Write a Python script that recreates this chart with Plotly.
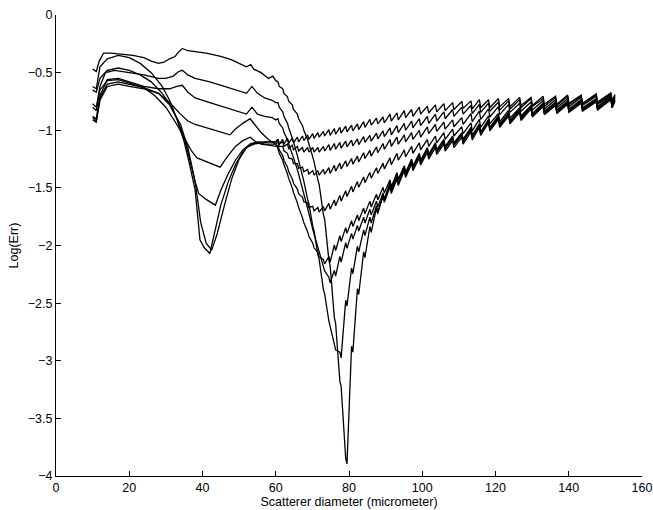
import plotly.graph_objects as go

# ---------------- data ----------------
# Left part of each curve (x, y), x in micrometer, y = Log(Err)
A_X = [10, 11, 11.8, 13, 15, 18, 21, 24, 26, 28, 29.5, 31, 32.5, 33.5, 34.5, 36, 38, 41, 45, 48, 50, 52, 53.2, 54, 56, 58, 59.2, 60]
A_Y = [-0.47, -0.49, -0.40, -0.33, -0.33, -0.34, -0.35, -0.37, -0.40, -0.42, -0.41, -0.38, -0.36, -0.32, -0.29, -0.31, -0.32, -0.33, -0.36, -0.39, -0.42, -0.45, -0.43, -0.47, -0.50, -0.55, -0.53, -0.57]

B_X = [10, 11, 12, 13.5, 16, 20, 24, 28, 30, 32, 33.5, 34.5, 36, 38, 42, 46, 50, 52, 53.5, 55, 57, 59, 60]
B_Y = [-0.77, -0.80, -0.62, -0.50, -0.48, -0.50, -0.52, -0.55, -0.55, -0.53, -0.49, -0.48, -0.52, -0.55, -0.58, -0.62, -0.66, -0.68, -0.62, -0.68, -0.72, -0.74, -0.76]

C_X = [10, 11, 12, 14, 17, 20, 24, 28, 31, 33, 34.5, 36, 38, 42, 46, 50, 52, 53.5, 55, 57, 59, 60]
C_Y = [-0.88, -0.90, -0.70, -0.56, -0.55, -0.58, -0.62, -0.64, -0.64, -0.62, -0.61, -0.67, -0.72, -0.76, -0.80, -0.84, -0.86, -0.80, -0.86, -0.88, -0.89, -0.91]

D_X = [10, 11, 12, 14, 17, 20, 24, 28, 31, 34, 36, 38, 41, 44, 47.5, 49, 51, 53, 54.5, 56, 58, 60]
D_Y = [-0.89, -0.92, -0.72, -0.60, -0.58, -0.60, -0.63, -0.68, -0.76, -0.86, -0.92, -0.95, -0.98, -1.01, -1.04, -0.99, -0.94, -0.90, -0.96, -1.02, -1.08, -1.12]

E_X = [10, 11, 12, 14, 17, 20, 24, 27, 30, 33, 35, 37, 38.5, 40, 42, 44.8, 47, 49, 51, 53, 54.5, 56, 58, 60]
E_Y = [-0.80, -0.83, -0.65, -0.57, -0.56, -0.59, -0.63, -0.70, -0.80, -0.95, -1.07, -1.18, -1.24, -1.26, -1.28, -1.32, -1.22, -1.14, -1.09, -1.06, -1.10, -1.12, -1.13, -1.14]

F_X = [10, 11, 12, 14, 17, 20, 23, 26, 29, 31, 33, 35, 36.5, 38, 39, 41, 43.5, 45, 47, 49, 51, 53, 55, 57, 59, 60]
F_Y = [-0.65, -0.67, -0.55, -0.48, -0.46, -0.48, -0.52, -0.58, -0.68, -0.77, -0.90, -1.07, -1.25, -1.45, -1.55, -1.60, -1.65, -1.52, -1.38, -1.26, -1.17, -1.12, -1.11, -1.12, -1.12, -1.12]

G_X = [10, 11, 12, 14, 17, 20, 23, 26, 29, 31, 33, 35, 36.5, 38, 39.3, 40.5, 42, 43.5, 45, 47, 49, 51, 53, 55, 57, 59, 60]
G_Y = [-0.62, -0.64, -0.45, -0.38, -0.35, -0.37, -0.42, -0.50, -0.62, -0.74, -0.90, -1.10, -1.30, -1.52, -1.95, -2.02, -2.07, -1.85, -1.65, -1.45, -1.30, -1.19, -1.12, -1.10, -1.10, -1.10, -1.10]

H_X = [10, 11, 12, 14, 17, 20, 24, 28, 31, 34, 36, 38, 39.5, 41, 42.5, 44, 46, 48, 50, 52, 54, 56, 58, 60]
H_Y = [-0.91, -0.93, -0.74, -0.62, -0.60, -0.62, -0.64, -0.68, -0.78, -0.95, -1.15, -1.45, -1.80, -1.98, -2.04, -1.90, -1.65, -1.42, -1.25, -1.15, -1.12, -1.11, -1.10, -1.10]

# Right part: positions of the saw-tooth drops (shared by all curves)
TOOTH_X = [60.6, 61.9, 63.2, 64.5, 65.9, 67.3, 68.7, 70.1, 71.5, 73.0,
           74.5, 76.0, 77.5, 79.1, 80.7, 82.3, 84.0, 85.7, 87.5, 89.3,
           91.2, 93.1, 95.1, 97.1, 99.2, 101.4, 103.6, 105.9, 108.3, 110.8,
           113.3, 115.6, 118.1, 120.8, 123.6, 126.6, 129.7, 133.0, 136.4, 139.7,
           143.4, 147.5, 151.5]
# tooth height at each drop
TOOTH_AMP = [0.04, 0.04, 0.04, 0.04, 0.04, 0.04, 0.04, 0.04, 0.04, 0.04,
             0.05, 0.05, 0.05, 0.05, 0.05, 0.05, 0.05, 0.05, 0.05, 0.05,
             0.06, 0.06, 0.06, 0.06, 0.06, 0.06, 0.06, 0.06, 0.06, 0.06,
             0.07, 0.07, 0.07, 0.07, 0.07, 0.07, 0.07, 0.07, 0.07, 0.07,
             0.07, 0.07, 0.07]
# mid-level of each curve at each tooth
A_R = [-0.60, -0.66, -0.73, -0.80, -0.88, -0.98, -1.10, -1.25, -1.45, -1.75,
       -2.15, -2.65, -3.20, -3.87, -2.90, -2.40, -2.08, -1.86, -1.70, -1.58,
       -1.48, -1.40, -1.34, -1.29, -1.24, -1.19, -1.15, -1.12, -1.09, -1.06,
       -1.02, -0.99, -0.95, -0.92, -0.89, -0.86, -0.84, -0.82, -0.81, -0.80,
       -0.79, -0.78, -0.77]
B_R = [-0.78, -0.86, -0.96, -1.08, -1.24, -1.42, -1.62, -1.85, -2.10, -2.40,
       -2.68, -2.88, -2.95, -2.50, -2.22, -2.03, -1.89, -1.78, -1.68, -1.60,
       -1.52, -1.45, -1.38, -1.32, -1.27, -1.22, -1.18, -1.15, -1.12, -1.09,
       -1.05, -1.01, -0.97, -0.94, -0.91, -0.88, -0.85, -0.83, -0.82, -0.81,
       -0.80, -0.79, -0.77]
C_R = [-0.92, -1.00, -1.10, -1.22, -1.36, -1.52, -1.70, -1.88, -2.05, -2.20,
       -2.30, -2.24, -2.12, -2.00, -1.92, -1.85, -1.78, -1.71, -1.64, -1.57,
       -1.50, -1.43, -1.36, -1.30, -1.25, -1.20, -1.16, -1.13, -1.10, -1.07,
       -1.03, -1.00, -0.96, -0.93, -0.90, -0.87, -0.84, -0.82, -0.81, -0.80,
       -0.79, -0.78, -0.76]
D_R = [-1.18, -1.28, -1.40, -1.52, -1.65, -1.78, -1.90, -2.00, -2.08, -2.14,
       -2.12, -2.02, -1.94, -1.87, -1.81, -1.76, -1.70, -1.64, -1.58, -1.52,
       -1.46, -1.40, -1.34, -1.28, -1.23, -1.18, -1.14, -1.11, -1.08, -1.05,
       -1.01, -0.98, -0.94, -0.91, -0.88, -0.85, -0.83, -0.81, -0.80, -0.79,
       -0.78, -0.77, -0.75]
E_R = [-1.15, -1.24, -1.34, -1.44, -1.53, -1.60, -1.65, -1.68, -1.69, -1.68,
       -1.66, -1.63, -1.59, -1.55, -1.51, -1.47, -1.43, -1.39, -1.35, -1.31,
       -1.27, -1.23, -1.20, -1.17, -1.14, -1.11, -1.08, -1.05, -1.02, -1.00,
       -0.97, -0.94, -0.91, -0.89, -0.86, -0.84, -0.82, -0.80, -0.79, -0.78,
       -0.77, -0.76, -0.74]
F_R = [-1.12, -1.16, -1.22, -1.27, -1.31, -1.34, -1.36, -1.37, -1.37, -1.36,
       -1.35, -1.33, -1.31, -1.29, -1.27, -1.25, -1.22, -1.20, -1.17, -1.14,
       -1.11, -1.09, -1.07, -1.05, -1.03, -1.00, -0.98, -0.96, -0.94, -0.92,
       -0.89, -0.87, -0.85, -0.83, -0.81, -0.80, -0.79, -0.78, -0.77, -0.76,
       -0.75, -0.74, -0.73]
G_R = [-1.10, -1.12, -1.14, -1.15, -1.16, -1.17, -1.17, -1.17, -1.17, -1.16,
       -1.15, -1.14, -1.13, -1.12, -1.11, -1.10, -1.08, -1.07, -1.05, -1.03,
       -1.01, -0.99, -0.97, -0.95, -0.93, -0.91, -0.89, -0.87, -0.85, -0.83,
       -0.82, -0.81, -0.80, -0.79, -0.78, -0.77, -0.76, -0.76, -0.75, -0.74,
       -0.74, -0.73, -0.72]
H_R = [-1.10, -1.10, -1.09, -1.09, -1.08, -1.07, -1.06, -1.05, -1.04, -1.03,
       -1.02, -1.01, -1.00, -0.99, -0.98, -0.97, -0.95, -0.93, -0.92, -0.91,
       -0.89, -0.88, -0.86, -0.85, -0.83, -0.82, -0.81, -0.80, -0.79, -0.78,
       -0.78, -0.77, -0.77, -0.76, -0.76, -0.75, -0.75, -0.74, -0.74, -0.73,
       -0.73, -0.72, -0.71]
END_X = 152.6  # last point of every curve

X_TICKS = [0, 20, 40, 60, 80, 100, 120, 140, 160]
Y_TICKS = [0, -0.5, -1, -1.5, -2, -2.5, -3, -3.5, -4]
Y_TICK_TEXT = ["0", "\u22120.5", "\u22121", "\u22121.5", "\u22122", "\u22122.5", "\u22123", "\u22123.5", "\u22124"]

CURVES = [(A_X, A_Y, A_R), (B_X, B_Y, B_R), (C_X, C_Y, C_R), (D_X, D_Y, D_R),
          (E_X, E_Y, E_R), (F_X, F_Y, F_R), (G_X, G_Y, G_R), (H_X, H_Y, H_R)]

DROP_W = 0.35  # width of each near-vertical drop (x units)

fig = go.Figure()
for lx, ly, base in CURVES:
    xs = list(lx)
    ys = list(ly)
    n = min(len(TOOTH_X), len(base), len(TOOTH_AMP))
    for i in range(n):
        h = TOOTH_AMP[i] / 2.0
        xs += [TOOTH_X[i], TOOTH_X[i] + DROP_W]
        ys += [base[i] + h, base[i] - h]
    # final ramp up to the end of the curve
    xs.append(END_X)
    ys.append(base[n - 1] + TOOTH_AMP[n - 1] / 2.0 * 0.6)
    fig.add_trace(go.Scatter(x=xs, y=ys, mode="lines",
                             line=dict(color="black", width=1.3),
                             hoverinfo="skip", showlegend=False))

axis_font = dict(family="Liberation Sans, Arial, Helvetica, sans-serif", size=12.5, color="black")
fig.update_layout(
    width=653, height=510,
    margin=dict(l=56, r=11, t=15, b=34),
    paper_bgcolor="white", plot_bgcolor="white",
    font=axis_font,
    showlegend=False,
)
fig.update_xaxes(
    range=[0, 160], tickvals=X_TICKS, ticktext=[str(v) for v in X_TICKS],
    ticks="inside", ticklen=5, tickwidth=1.2, tickcolor="black",
    showline=True, linecolor="black", linewidth=1.3, mirror=False,
    showgrid=False, zeroline=False, tickfont=axis_font,
    title=dict(text="Scatterer diameter (micrometer)", font=axis_font, standoff=1),
    automargin=False,
)
fig.update_yaxes(
    range=[-4, 0], tickvals=Y_TICKS, ticktext=Y_TICK_TEXT,
    ticks="inside", ticklen=5, tickwidth=1.2, tickcolor="black",
    showline=True, linecolor="black", linewidth=1.3, mirror=False,
    showgrid=False, zeroline=False, tickfont=axis_font,
    title=dict(text="Log(Err)", font=axis_font, standoff=6),
    automargin=False,
)
fig.write_html("out.html")
